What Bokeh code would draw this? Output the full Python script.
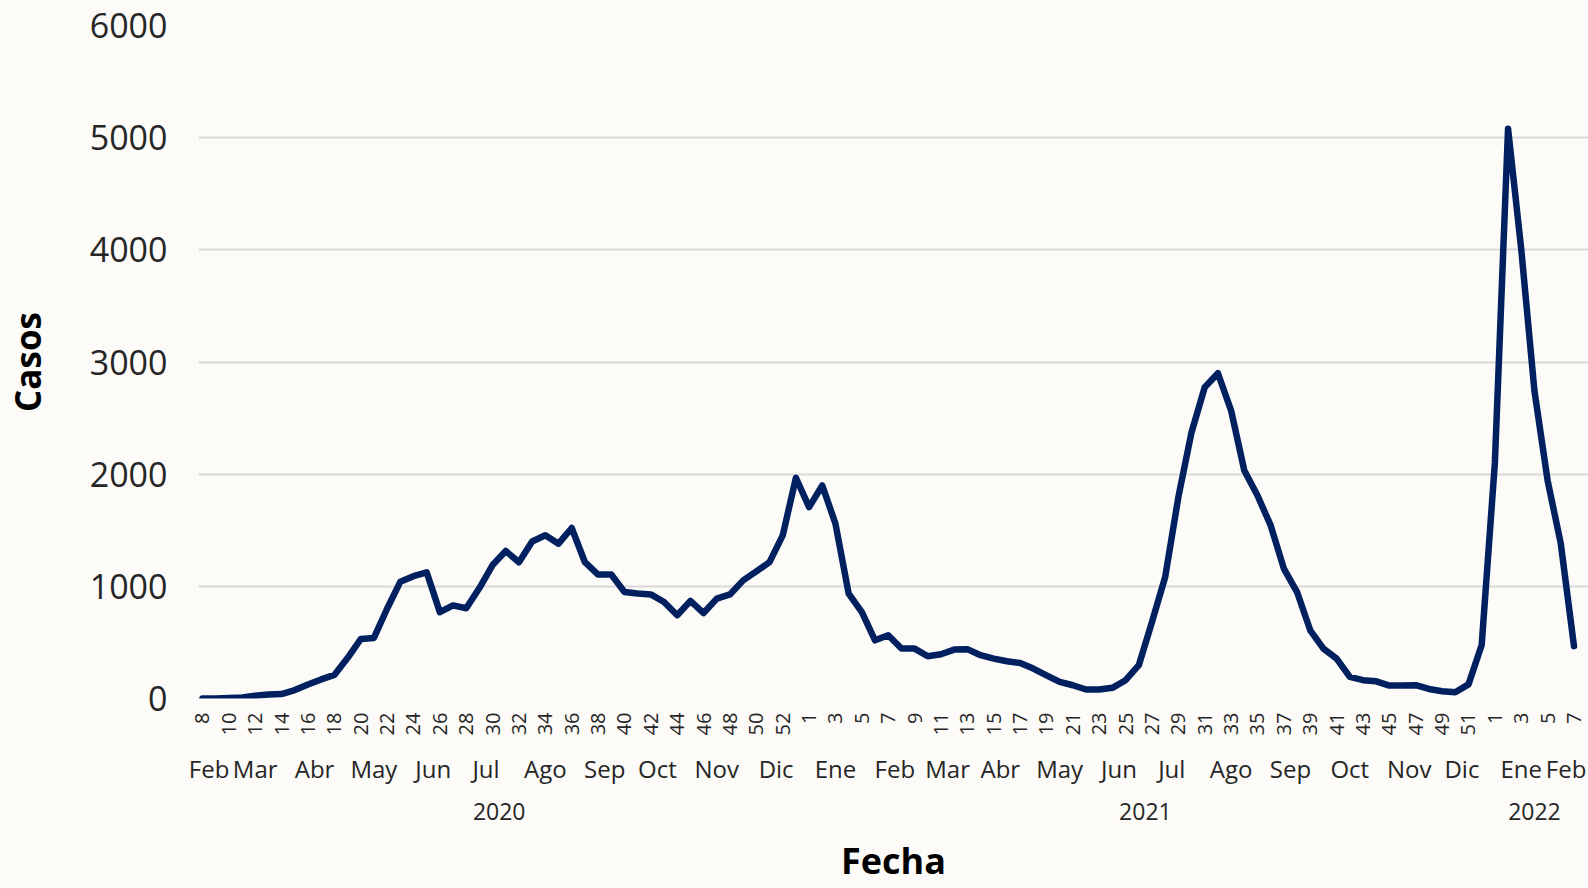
import math
from datetime import date, timedelta
from bokeh.plotting import figure
from bokeh.models import FixedTicker, LinearAxis, Range1d, AllLabels
from bokeh.embed import file_html
from bokeh.resources import INLINE

# ---------------- data ----------------
years = [2020] * 46 + [2021] * 52 + [2022] * 7
weeks = list(range(8, 54)) + list(range(1, 53)) + list(range(1, 8))
casos = [
    # 2020, semanas 8-53
    0, 0, 5, 10, 25, 35, 40, 75, 125, 170, 210, 360, 530, 540, 800, 1040,
    1090, 1125, 770, 830, 805, 985, 1190, 1315, 1215, 1400, 1455, 1380, 1520,
    1215, 1105, 1105, 950, 937, 928, 860, 742, 870, 762, 890, 928, 1053, 1133,
    1216, 1454, 1968,
    # 2021, semanas 1-52
    1706, 1899, 1558, 935, 771, 519, 564, 445, 445, 377, 395, 436, 440, 386,
    356, 332, 317, 267, 207, 148, 118, 80, 80, 95, 163, 297, 682, 1083, 1795,
    2374, 2775, 2900, 2567, 2033, 1810, 1543, 1158, 949, 608, 445, 356, 193,
    163, 153, 115, 117, 119, 85, 65, 55, 126, 477,
    # 2022, semanas 1-7
    2100, 5080, 4005, 2744, 1943, 1380, 467,
]
month_names = ["Ene", "Feb", "Mar", "Abr", "May", "Jun",
               "Jul", "Ago", "Sep", "Oct", "Nov", "Dic"]
y_ticks = [0, 1000, 2000, 3000, 4000, 5000, 6000]

# ---------------- derived ----------------
x = list(range(len(casos)))


def epi_week_start(y, w):
    jan4 = date(y, 1, 4)
    w1 = jan4 - timedelta(days=(jan4.weekday() + 1) % 7)
    return w1 + timedelta(weeks=w - 1)


starts = [epi_week_start(y, w) for y, w in zip(years, weeks)]

X_START, X_END = -0.3, 105.1

# week labels: every other week
week_ticks = [i for i in x if i % 2 == 0]
week_over = {i: str(weeks[i]) for i in week_ticks}

# month groups (by the start date of each epidemiological week)
groups = []
for i, s in enumerate(starts):
    key = (s.year, s.month)
    if groups and groups[-1][0] == key:
        groups[-1][1].append(i)
    else:
        groups.append([key, [i]])
centers = [sum(idx) / len(idx) for _, idx in groups]
centers[-1] = min(centers[-1], X_END - 1.7)
MIN_SEP = 3.4
for k in range(len(centers) - 2, -1, -1):
    if centers[k + 1] - centers[k] < MIN_SEP:
        centers[k] = centers[k + 1] - MIN_SEP
month_ticks, month_over = [], {}
for (key, idx), c in zip(groups, centers):
    c = round(c, 3)
    month_ticks.append(c)
    month_over[c] = month_names[key[1] - 1]

# year groups
year_ticks, year_over = [], {}
for yv in sorted(set(years)):
    idx = [i for i in x if years[i] == yv]
    c = round(sum(idx) / len(idx), 3)
    year_ticks.append(c)
    year_over[c] = str(yv)

FONT = "Open Sans"
TXT = "#262626"
BG = "#fcfbf8"

p = figure(width=1588, height=888,
           x_range=Range1d(X_START, X_END), y_range=Range1d(0, 6000),
           output_backend="svg", toolbar_location=None,
           min_border_left=196, min_border_right=0,
           min_border_top=25, min_border_bottom=190)
p.background_fill_color = BG
p.border_fill_color = BG
p.outline_line_color = None

p.line(x, casos, line_color="#002060", line_width=6.5,
       line_join="round", line_cap="round")

# grid
p.xgrid.visible = False
p.ygrid.ticker = FixedTicker(ticks=y_ticks)
p.ygrid.grid_line_color = "#d9d9d9"
p.ygrid.grid_line_width = 2


def style_axis(ax):
    ax.axis_line_color = None
    ax.major_tick_line_color = None
    ax.minor_tick_line_color = None
    ax.major_tick_in = 0
    ax.major_tick_out = 0
    ax.major_label_text_font = FONT
    ax.major_label_text_color = TXT
    ax.major_label_policy = AllLabels()


# y axis
ya = p.yaxis[0]
style_axis(ya)
ya.ticker = FixedTicker(ticks=y_ticks)
ya.major_label_text_font_size = "34px"
ya.major_label_standoff = 31
ya.axis_label = "Casos"
ya.axis_label_text_font = FONT
ya.axis_label_text_font_style = "bold"
ya.axis_label_text_font_size = "35px"
ya.axis_label_text_color = "#000000"
ya.axis_label_standoff = 36

# week axis
xa = p.xaxis[0]
style_axis(xa)
xa.ticker = FixedTicker(ticks=week_ticks)
xa.major_label_overrides = week_over
xa.major_label_orientation = math.pi / 2
xa.major_label_text_font_size = "20px"
xa.major_label_standoff = 14

# month axis
ma = LinearAxis(ticker=FixedTicker(ticks=month_ticks),
                major_label_overrides=month_over)
style_axis(ma)
ma.major_label_text_font_size = "24px"
ma.major_label_standoff = 13
p.add_layout(ma, "below")

# year axis
yra = LinearAxis(ticker=FixedTicker(ticks=year_ticks),
                 major_label_overrides=year_over)
style_axis(yra)
yra.major_label_text_font_size = "23px"
yra.major_label_standoff = 15
yra.axis_label = "Fecha"
yra.axis_label_text_font = FONT
yra.axis_label_text_font_style = "bold"
yra.axis_label_text_font_size = "36px"
yra.axis_label_text_color = "#000000"
yra.axis_label_standoff = 13
p.add_layout(yra, "below")

open("out.html", "w").write(file_html(p, INLINE))
